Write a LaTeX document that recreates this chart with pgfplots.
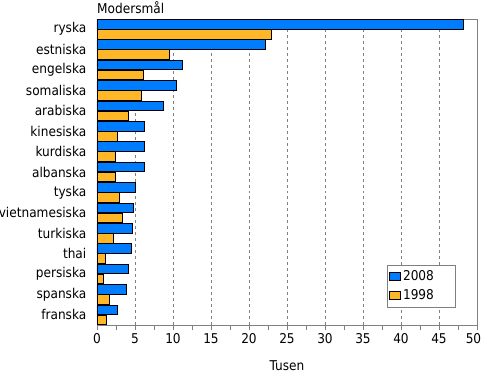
\documentclass[border=0pt]{standalone}
\usepackage{pgfplots}
\pgfplotsset{compat=1.18}
\usepackage{pgfplotstable}
\usepackage{fontspec}
\setmainfont{DejaVu Sans Condensed}
\definecolor{blue08}{RGB}{0,125,255}
\definecolor{orange98}{RGB}{255,183,40}
\definecolor{axgray}{RGB}{128,128,128}
\pgfplotstableread{
idx y08 y98
14 48.2 22.9
13 22.1 9.5
12 11.2 6.1
11 10.5 5.8
10 8.7 4.1
9 6.3 2.7
8 6.3 2.4
7 6.2 2.45
6 5.0 3.0
5 4.85 3.3
4 4.65 2.2
3 4.5 1.15
2 4.1 0.9
1 3.85 1.7
0 2.65 1.3
}\data
\newcommand\fs{\fontsize{13.5bp}{16bp}\selectfont}
\begin{document}
\fs
\begin{tikzpicture}
\begin{axis}[
  scale only axis, width=380bp, height=306bp,
  clip=false,
  xbar, bar width=0.47,
  xmin=0, xmax=50, ymin=-0.5, ymax=14.5,
  xtick={0,5,...,50}, minor x tick num=1,
  xticklabels={0,5,10,15,20,25,30,35,40,45,50\hspace*{7bp}},
  ytick={0,...,14},
  yticklabels={franska,spanska,persiska,thai,turkiska,vietnamesiska,tyska,albanska,kurdiska,kinesiska,arabiska,somaliska,engelska,estniska,ryska},
  ticklabel style={font=\fs},
  axis line style={axgray},
  every tick/.style={axgray},
  xtick pos=bottom, ytick pos=left,
  ytick style={draw=none},
  tick align=outside,
  major tick length=5bp, minor tick length=5bp,
  xmajorgrids, major grid style={dashed, axgray},
  yticklabel style={xshift=-1bp},
  xticklabel style={yshift=1bp},
  xlabel={Tusen},
  xlabel style={font=\fs, yshift=-8bp},
  legend style={at={(rel axis cs:0.763,0.059)}, anchor=south west, draw=axgray, fill=white,
    font=\fs, inner xsep=2bp, inner ysep=3bp, row sep=3bp,
    /tikz/every even column/.append style={column sep=1bp}},
  legend cell align=left,
]
\addplot[fill=blue08, draw=black, line width=0.9bp, bar shift=0.245,
  legend image code/.code={\draw[fill=blue08, draw=black, line width=0.9bp] (0bp,-4bp) rectangle (11bp,4bp);}]
  table[x=y08, y=idx]{\data};
\addlegendentry{2008\hspace*{17bp}}
\addplot[fill=orange98, draw=black, line width=0.9bp, bar shift=-0.245,
  legend image code/.code={\draw[fill=orange98, draw=black, line width=0.9bp] (0bp,-4bp) rectangle (11bp,4bp);}]
  table[x=y98, y=idx]{\data};
\addlegendentry{1998\hspace*{17bp}}
\node[anchor=base west, inner sep=0pt, font=\fs] at (rel axis cs:0,1) [yshift=5bp] {Modersmål};
\end{axis}
\pgfresetboundingbox
\path (current axis.south west) ++(-97bp,-49bp) rectangle ++(481bp,374bp);
\end{tikzpicture}
\end{document}
